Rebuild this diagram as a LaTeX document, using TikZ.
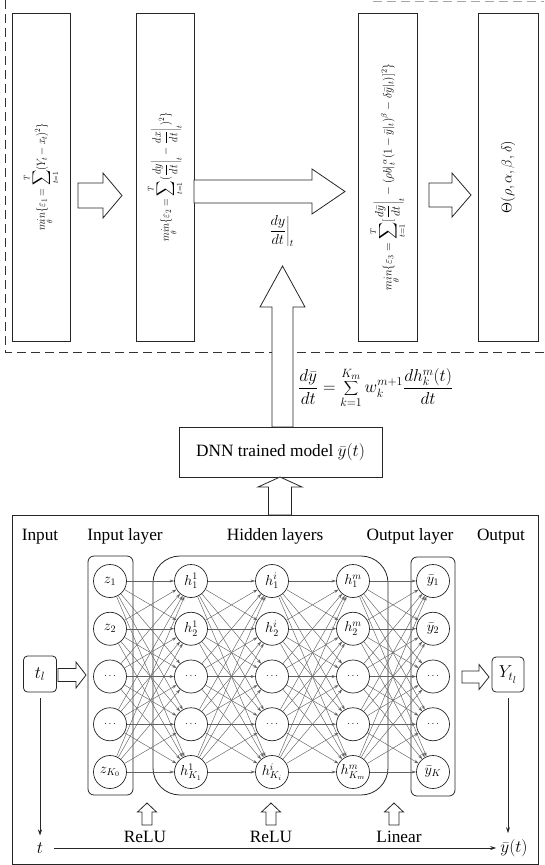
\documentclass[tikz,border=0pt]{standalone}
\usepackage{fontspec}
\usepackage{graphicx}
\setmainfont{Liberation Serif}
\usetikzlibrary{arrows.meta}
\tikzset{
  frame/.style={draw=black!85, line width=0.8pt},
  blockarr/.style={draw=black!85, line width=0.8pt, fill=white, line join=miter},
  neuron/.style={circle, draw=black!85, line width=0.7pt, minimum size=33pt, inner sep=0pt, font=\Large, fill=white},
  conn/.style={draw=black!62, line width=0.45pt, -{Stealth[length=4.5pt,width=3pt]}},
  layerbox/.style={draw=black!85, line width=0.8pt},
  dashline/.style={draw=black!80, line width=0.8pt, dash pattern=on 9pt off 5pt},
  axisarr/.style={draw=black!85, line width=0.7pt, -{Stealth[length=6pt,width=4pt]}},
  toplbl/.style={font=\LARGE, anchor=base, inner sep=0pt},
  tbox/.style={frame, rotate=90, inner sep=2pt},
}
\newcommand{\arrR}[6]{\draw[blockarr] (#1,#4-#5) -- (#2,#4-#5) -- (#2,#4-#6) -- (#3,#4) -- (#2,#4+#6) -- (#2,#4+#5) -- (#1,#4+#5) -- cycle;}
\newcommand{\arrU}[6]{\draw[blockarr] (#1-#5,#2) -- (#1-#5,#3) -- (#1-#6,#3) -- (#1,#4) -- (#1+#6,#3) -- (#1+#5,#3) -- (#1+#5,#2) -- cycle;}
\newcommand{\dotsx}{{\normalsize$\cdots$}}
\newcommand{\bigsum}{\mathop{\scalebox{1.25}{$\displaystyle\sum$}}}
\begin{document}
\begin{tikzpicture}[x=1pt,y=-1pt]
\useasboundingbox (0,0) rectangle (544,865);
% dashed frame of the top part
\draw[dashline] (5,0) -- (5,352) -- (544,352);
\draw[dashline, draw=black!35] (373,1) -- (544,1);
% top boxes
\node[tbox, minimum width=328pt, minimum height=58pt, font=\large] (B1) at (41,177)
  {\scalebox{0.85}[1]{$\displaystyle \mathop{min}\limits_{\theta}\{\varepsilon_1=\bigsum_{t=1}^{T}(Y_t-x_t)^2\}$}};
\node[tbox, minimum width=328pt, minimum height=58pt, font=\large] (B2) at (165,177)
  {\scalebox{0.85}[1]{$\displaystyle \mathop{min}\limits_{\theta}\{\varepsilon_2=\bigsum_{t=1}^{T}(\left.\frac{dy}{dt}\right|_t-\left.\frac{dx}{dt}\right|_t)^2\}$}};
\node[tbox, minimum width=328pt, minimum height=59pt, font=\large] (B3) at (387.5,177)
  {\scalebox{0.95}[1]{$\displaystyle \mathop{min}\limits_{\theta}\{\varepsilon_3=\bigsum_{t=1}^{T}[\left.\frac{d\bar{y}}{dt}\right|_t-(\rho b|_t^{\,\alpha}(1-\bar{y}|_t)^{\beta}-\delta\bar{y}|_t)]^2\}$}};
\node[tbox, minimum width=328pt, minimum height=60pt, font=\Large] (B4) at (508,177)
  {$\Theta(\rho,\alpha,\beta,\delta)$};
% arrows between top boxes
\arrR{78}{103}{122}{195.5}{12.5}{22.5}
\arrR{194}{312}{345}{191.5}{11.5}{22.5}
\arrR{429}{452}{471}{195}{12}{22}
\node[font=\Large] (dydt) at (281,231) {$\displaystyle\left.\frac{dy}{dt}\right|_t$};
% up arrow from DNN box
\arrU{282.5}{427}{307}{266}{10.5}{22.5}
\node[font=\LARGE, anchor=west, inner sep=1pt] (deriv) at (297,388)
  {$\displaystyle\frac{d\bar{y}}{dt}=\sum_{k=1}^{K_m}w_k^{m+1}\frac{dh_k^m(t)}{dt}$};
% DNN box
\node[frame, minimum width=203pt, minimum height=50pt, font=\LARGE] (dnn) at (280.5,452)
  {DNN trained model $\bar{y}(t)$};
\arrU{280}{515}{487}{477}{11.5}{22}
% bottom big frame
\draw[frame] (12,515) rectangle (538,864);
% headings
\node[toplbl] (hin) at (40,540) {Input};
\node[toplbl] (hil) at (125,540) {Input layer};
\node[toplbl] (hhl) at (275,540) {Hidden layers};
\node[toplbl] (hol) at (410,540) {Output layer};
\node[toplbl] (hout) at (501,540) {Output};
% layer boxes
\draw[layerbox, rounded corners=6pt] (88,556) rectangle (133,795);
\draw[layerbox, rounded corners=27pt] (153,556) rectangle (388,795);
\draw[layerbox, rounded corners=6pt] (411,557) rectangle (455,796);
% neurons
\node[neuron] (z1) at (110,581) {$z_1$};
\node[neuron] (z2) at (110,628.75) {$z_2$};
\node[neuron] (z5) at (110,772) {$z_{K_0}$};
\node[neuron] (a1) at (191,581) {$h^1_1$};
\node[neuron] (a2) at (191,628.75) {$h^1_2$};
\node[neuron] (a5) at (191,772) {$h^1_{K_1}$};
\node[neuron] (b1) at (272,581) {$h^i_1$};
\node[neuron] (b2) at (272,628.75) {$h^i_2$};
\node[neuron] (b5) at (272,772) {$h^i_{K_i}$};
\node[neuron] (c1) at (353,581) {$h^m_1$};
\node[neuron] (c2) at (353,628.75) {$h^m_2$};
\node[neuron] (c5) at (353,772) {$h^m_{K_m}$};
\node[neuron] (o1) at (433,581) {$\bar{y}_1$};
\node[neuron] (o2) at (433,628.75) {$\bar{y}_2$};
\node[neuron] (o5) at (433,772) {$\bar{y}_K$};
\foreach \c/\x in {z/110,a/191,b/272,c/353,o/433}{
  \node[neuron] (\c3) at (\x,676.5) {\dotsx};
  \node[neuron] (\c4) at (\x,724.25) {\dotsx};
}
\foreach \s/\t in {z/a,a/b,b/c,c/o}
  \foreach \i in {1,...,5}
    \foreach \j in {1,...,5}
      \draw[conn] (\s\i) -- (\t\j);
% input / output
\node[frame, rounded corners=4pt, minimum width=33pt, minimum height=36pt, inner sep=0pt, font=\LARGE] (tl) at (40,674) {$t_l$};
\node[frame, rounded corners=4pt, minimum width=32pt, minimum height=35pt, inner sep=0pt, font=\LARGE] (yt) at (508,674.5) {$Y_{t_l}$};
\arrR{58}{76}{86}{675}{6.5}{13}
\arrR{462}{479}{489}{677}{6}{12.5}
% axes
\node[font=\LARGE, inner sep=1pt] (tlab) at (40,848) {$t$};
\node[font=\LARGE, inner sep=1pt] (ylab) at (514,848) {$\bar{y}(t)$};
\draw[axisarr, shorten <=6pt, shorten >=6pt] (tl.south) -- (tl.south |- tlab.north);
\draw[axisarr, shorten <=6pt, shorten >=5pt] (yt.south) -- (yt.south |- ylab.north);
\draw[axisarr, shorten <=10pt, shorten >=3pt] (tlab.east) -- (ylab.west);
% activation arrows
\arrU{147}{825}{812}{803}{5}{9.5}
\arrU{271}{825}{812}{803}{5}{9.5}
\arrU{394}{825}{812}{803}{5}{9.5}
\node[toplbl] (act1) at (145,842) {ReLU};
\node[toplbl] (act2) at (271,842) {ReLU};
\node[toplbl] (act3) at (399,842) {Linear};
\end{tikzpicture}
\end{document}
